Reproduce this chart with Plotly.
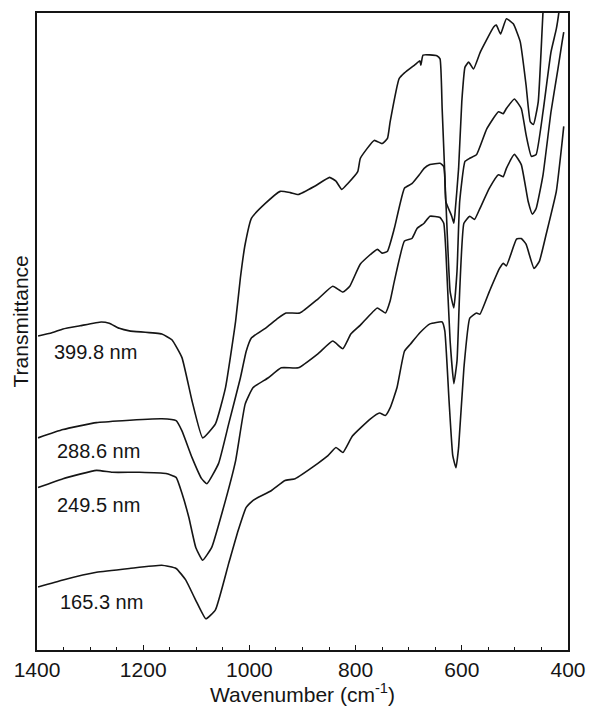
import plotly.graph_objects as go

# IR transmittance spectra of films of different thickness (arbitrary offset units)
wn_399 = [1398, 1372, 1351, 1319, 1279, 1264, 1245, 1226, 1165, 1146, 1127, 1108, 1088,
          1064, 1045, 1026, 1017, 1008, 996, 970, 942, 923, 908, 877, 849, 837, 826, 815,
          796, 791, 765, 750, 740, 735, 718, 708, 688, 679, 677, 673, 647, 641, 637, 632,
          630, 619, 615, 613, 606, 600, 594, 587, 578, 565, 540, 535, 527, 516, 503, 490,
          479, 471, 465, 456, 447, 441]
t_399 = [49.3, 49.8, 50.4, 50.9, 51.5, 51.3, 50.5, 50.1, 49.6, 48.7, 45.9, 39.1, 33.3,
         35.5, 41.2, 51.6, 58.4, 63.7, 67.8, 70.1, 72.0, 71.8, 71.5, 72.8, 74.2, 73.6, 72.3, 73.2,
         75.1, 77.2, 80.0, 79.5, 80.3, 82.9, 89.7, 90.6, 91.9, 92.5, 91.8, 93.4, 93.3, 92.8, 85.0, 74.6,
         70.4, 68.1, 67.0, 68.4, 75.6, 86.1, 91.5, 92.3, 91.2, 93.9, 97.8, 98.1, 96.7, 99.1, 98.3, 95.5,
         88.7, 82.9, 82.5, 86.1, 100.2, 106.0]

wn_288 = [1398, 1351, 1288, 1239, 1165, 1138, 1127, 1108, 1090, 1080, 1058, 1039, 1017,
          1006, 996, 970, 946, 931, 905, 871, 843, 824, 811, 791, 759, 750, 740, 727, 708,
          694, 680, 671, 660, 641, 634, 630, 622, 615, 609, 604, 594, 585, 572, 553, 531,
          522, 516, 501, 488, 479, 469, 460, 447, 432, 422, 417, 411]
t_288 = [33.3, 34.6, 35.7, 36.0, 36.3, 36.0, 34.4, 30.2, 26.9, 26.1, 29.3, 35.5, 42.7,
         46.9, 49.0, 50.5, 52.1, 52.9, 52.9, 55.1, 57.1, 56.2, 57.1, 60.6, 62.9, 62.3, 62.6, 66.2, 72.5,
         73.2, 74.6, 75.6, 76.2, 76.4, 75.9, 70.4, 56.3, 53.7, 59.5, 70.4, 76.7, 77.2, 77.8, 81.8, 84.5,
         84.2, 85.0, 86.5, 85.0, 80.9, 77.5, 77.8, 84.5, 93.9, 97.5, 100.2, 104.7]

wn_249 = [1398, 1351, 1288, 1258, 1207, 1157, 1138, 1127, 1114, 1101, 1088, 1071, 1052,
          1026, 1008, 993, 965, 940, 908, 871, 843, 824, 809, 791, 759, 744, 735, 727, 708,
          694, 684, 671, 660, 641, 634, 630, 622, 615, 609, 604, 596, 585, 576, 566, 548,
          531, 522, 516, 501, 488, 475, 467, 460, 447, 432, 419, 411, 408]
t_249 = [25.5, 26.9, 28.2, 27.9, 27.9, 27.7, 27.1, 24.6, 20.8, 16.1, 14.1, 16.1, 21.4,
         29.7, 38.6, 41.2, 42.7, 44.3, 44.3, 46.5, 48.5, 47.3, 49.6, 51.0, 53.7, 52.9, 54.8, 57.9, 64.2,
         64.6, 66.2, 67.0, 68.1, 67.9, 67.0, 62.6, 48.5, 41.8, 45.4, 56.3, 67.0, 68.1, 67.6, 69.3, 72.5,
         74.6, 74.3, 75.6, 77.8, 76.2, 70.4, 68.4, 69.3, 74.6, 84.5, 91.2, 95.5, 97.0]

wn_165 = [1398, 1351, 1288, 1226, 1165, 1138, 1120, 1101, 1082, 1064, 1039, 1021, 1006,
          993, 959, 933, 914, 871, 852, 837, 824, 806, 772, 755, 744, 735, 722, 708, 697,
          679, 660, 637, 632, 624, 617, 611, 606, 596, 585, 572, 566, 548, 529, 522, 516,
          497, 488, 479, 464, 454, 441, 422, 411, 408]
t_165 = [9.9, 11.0, 12.2, 12.8, 13.3, 12.8, 11.0, 7.8, 4.9, 6.3, 13.6, 18.8, 22.4,
         23.5, 25.0, 26.6, 26.9, 29.3, 30.5, 31.8, 31.0, 33.6, 36.3, 37.2, 36.8, 38.0, 41.2, 46.9, 48.0,
         49.8, 51.2, 51.5, 50.1, 39.1, 30.5, 28.6, 31.8, 44.3, 52.1, 52.9, 52.7, 56.3, 59.9, 60.7, 60.3,
         64.5, 64.6, 63.7, 59.9, 61.0, 65.3, 72.0, 79.8, 82.2]

series = [
    ("399.8 nm", wn_399, t_399, 1372, 46.8),
    ("288.6 nm", wn_288, t_288, 1366, 31.3),
    ("249.5 nm", wn_249, t_249, 1366, 22.8),
    ("165.3 nm", wn_165, t_165, 1361, 7.5),
]

x_ticks = [1400, 1200, 1000, 800, 600, 400]

FONT = "Liberation Sans, Arial, Helvetica, sans-serif"
INK = "#151515"

fig = go.Figure()
annotations = []
for name, wn, t, lx, ly in series:
    fig.add_trace(go.Scatter(
        x=wn, y=t, mode="lines", name=name,
        line=dict(color=INK, width=1.6, shape="spline", smoothing=0.4),
        showlegend=False, hoverinfo="skip",
    ))
    annotations.append(dict(
        x=lx, y=ly, xref="x", yref="y", text=name, showarrow=False,
        xanchor="left", yanchor="middle",
        font=dict(family=FONT, size=20, color=INK),
    ))

# axis titles placed as free text for exact positioning
annotations.append(dict(
    x=0.5, y=-0.067, xref="paper", yref="paper", text="Wavenumber (cm<sup>-1</sup>)",
    showarrow=False, xanchor="center", yanchor="middle",
    font=dict(family=FONT, size=21, color=INK),
))
annotations.append(dict(
    x=-0.031, y=0.515, xref="paper", yref="paper", text="Transmittance",
    showarrow=False, xanchor="center", yanchor="middle", textangle=-90,
    font=dict(family=FONT, size=21, color=INK),
))

fig.update_layout(
    width=597, height=710,
    margin=dict(l=37, r=25, t=11, b=60),
    paper_bgcolor="white", plot_bgcolor="white",
    annotations=annotations,
    font=dict(family=FONT, color=INK),
)
fig.update_xaxes(
    range=[1400, 400], tickvals=x_ticks, ticktext=[str(v) for v in x_ticks],
    ticks="inside", ticklen=5, tickwidth=1.2, tickcolor=INK,
    minor=dict(dtick=50, ticks="inside", ticklen=3, tickwidth=1, tickcolor=INK),
    showline=True, linecolor=INK, linewidth=1.6, mirror=True,
    showgrid=False, zeroline=False,
    tickfont=dict(family=FONT, size=21, color=INK),
)
fig.update_yaxes(
    range=[0, 100], showticklabels=False, ticks="",
    showline=True, linecolor=INK, linewidth=1.6, mirror=True,
    showgrid=False, zeroline=False,
)

fig.write_html("out.html")
